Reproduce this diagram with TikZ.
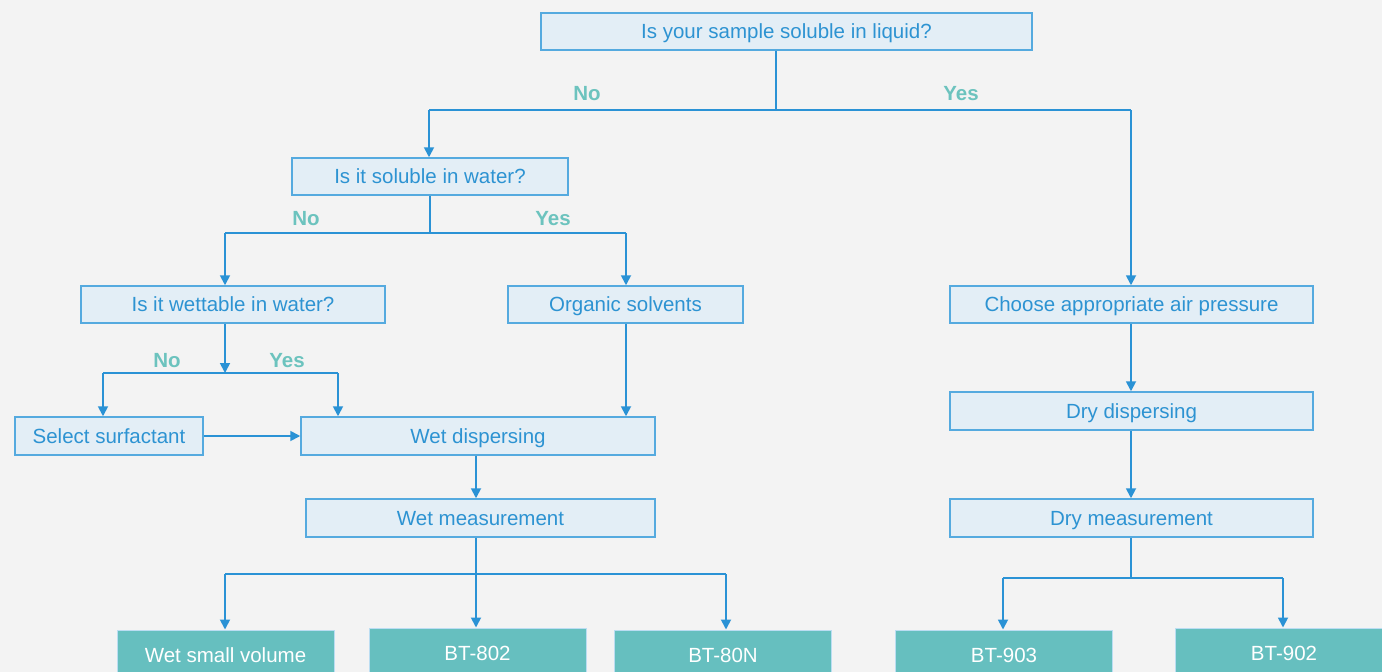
\documentclass[tikz,border=0pt]{standalone}
\usepackage{fontspec}
\setmainfont{Liberation Sans}
\usetikzlibrary{arrows.meta}
\definecolor{bg}{HTML}{F3F3F3}
\definecolor{boxfill}{HTML}{E3EEF6}
\definecolor{boxline}{HTML}{55AADF}
\definecolor{txt}{HTML}{2D93D2}
\definecolor{conn}{HTML}{2A92D5}
\definecolor{lbl}{HTML}{6CC3BE}
\definecolor{teal}{HTML}{66BFBF}
\tikzset{
  qbox/.style={draw=boxline, line width=1.5pt, fill=boxfill, text=txt, inner sep=0pt,
    font=\fontsize{20.5}{24}\selectfont, minimum height=37pt, text height=14.7pt, text depth=0pt},
  rbox/.style={draw=boxline!40, line width=1pt, fill=teal, text=white, inner sep=0pt,
    font=\fontsize{20.5}{24}\selectfont, minimum height=50pt, minimum width=217pt,
    text height=14.7pt, text depth=0pt},
  lab/.style={text=lbl, font=\fontsize{20.5}{24}\selectfont\bfseries, inner sep=0pt,
    text height=14.7pt, text depth=0pt},
  conline/.style={draw=conn, line width=1.8pt},
  arr/.style={conline, -{Triangle[width=10pt,length=10pt]}},
}
\begin{document}
\begin{tikzpicture}[x=1pt,y=-1pt]
\useasboundingbox[fill=bg] (0,0) rectangle (1382,672);
% boxes
\node[qbox, minimum width=491pt] (q1) at (786.5,31.5) {Is your sample soluble in liquid?};
\node[qbox, minimum width=276pt] (q2) at (430,176.5) {Is it soluble in water?};
\node[qbox, minimum width=304pt] (q3) at (233,304.5) {Is it wettable in water?};
\node[qbox, minimum width=235pt] (q4) at (625.5,304.5) {Organic solvents};
\node[qbox, minimum width=188pt, minimum height=38pt] (q5) at (109,436) {Select surfactant};
\node[qbox, minimum width=354pt, minimum height=38pt] (q6) at (478,436) {Wet dispersing};
\node[qbox, minimum width=349pt, minimum height=38pt] (q7) at (480.5,518) {Wet measurement};
\node[qbox, minimum width=363pt] (q8) at (1131.5,304.5) {Choose appropriate air pressure};
\node[qbox, minimum width=363pt, minimum height=38pt] (q9) at (1131.5,411) {Dry dispersing};
\node[qbox, minimum width=363pt, minimum height=38pt] (q10) at (1131.5,518) {Dry measurement};
% results
\node[rbox] (r1) at (225.5,655) {Wet small volume};
\node[rbox] (r2) at (477.5,653) {BT-802};
\node[rbox] (r3) at (723,655) {BT-80N};
\node[rbox] (r4) at (1004,655) {BT-903};
\node[rbox, minimum width=218pt] (r5) at (1284,653) {BT-902};
% labels
\node[lab] (l1) at (587,93) {No};
\node[lab] (l2) at (961,93) {Yes};
\node[lab] (l3) at (306,218) {No};
\node[lab] (l4) at (553,218) {Yes};
\node[lab] (l5) at (167,360) {No};
\node[lab] (l6) at (287,360) {Yes};
% junctions
\coordinate (j1) at (776,110);
\coordinate (j1l) at (429,110);
\coordinate (j1r) at (1131,110);
\coordinate (j2) at (430,233);
\coordinate (j2l) at (225,233);
\coordinate (j2r) at (626,233);
\coordinate (j3) at (225,373);
\coordinate (j3l) at (103,373);
\coordinate (j3r) at (338,373);
\coordinate (j4) at (626,436);
\coordinate (j5) at (476,574);
\coordinate (j5l) at (225,574);
\coordinate (j5r) at (726,574);
\coordinate (j6) at (1131,578);
\coordinate (j6l) at (1003,578);
\coordinate (j6r) at (1283,578);
% connectors
\draw[conline] (j1 |- q1.south) -- (j1);
\draw[conline] (j1l) -- (j1r);
\draw[arr] (j1l) -- (j1l |- q2.north);
\draw[arr] (j1r) -- (j1r |- q8.north);
\draw[conline] (q2.south) -- (j2);
\draw[conline] (j2l) -- (j2r);
\draw[arr] (j2l) -- (j2l |- q3.north);
\draw[arr] (j2r) -- (j2r |- q4.north);
\draw[arr] (j3 |- q3.south) -- (j3);
\draw[conline] (j3l) -- (j3r);
\draw[arr] (j3l) -- (j3l |- q5.north);
\draw[arr] (j3r) -- (j3r |- q6.north);
\draw[arr] (q5.east) -- (q6.west);
\draw[arr] (j4 |- q4.south) -- (j4 |- q6.north);
\draw[arr] (j5 |- q6.south) -- (j5 |- q7.north);
\draw[conline] (j5 |- q7.south) -- (j5);
\draw[conline] (j5l) -- (j5r);
\draw[arr] (j5) -- (j5 |- r2.north);
\draw[arr] (j5l) -- (j5l |- r1.north);
\draw[arr] (j5r) -- (j5r |- r3.north);
\draw[arr] (j6 |- q8.south) -- (j6 |- q9.north);
\draw[arr] (j6 |- q9.south) -- (j6 |- q10.north);
\draw[conline] (j6 |- q10.south) -- (j6);
\draw[conline] (j6l) -- (j6r);
\draw[arr] (j6l) -- (j6l |- r4.north);
\draw[arr] (j6r) -- (j6r |- r5.north);
\end{tikzpicture}
\end{document}
